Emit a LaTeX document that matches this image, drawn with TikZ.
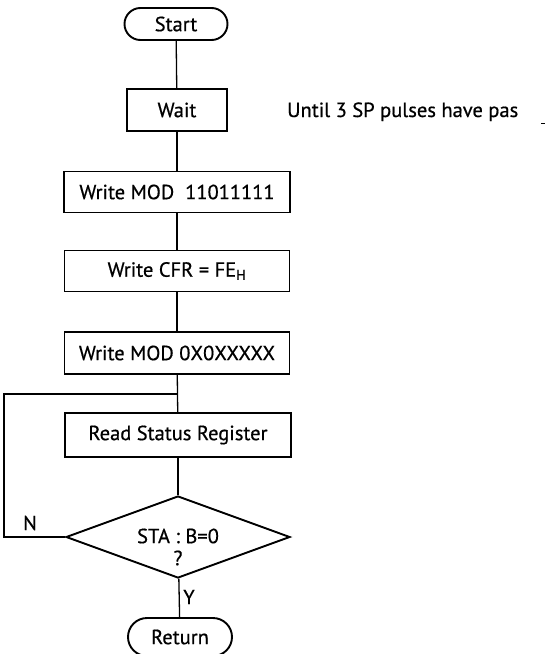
\documentclass[tikz,border=0pt]{standalone}
\usepackage{fontspec}
\setmainfont{PT Sans}[FakeBold=0.6]
\usetikzlibrary{shapes.geometric}
\begin{document}
\begin{tikzpicture}[x=1pt,y=-1pt,
  every node/.style={font=\fontsize{20.5}{21}\selectfont},
  box/.style={draw,line width=1.9pt,minimum height=43pt,inner sep=0pt},
  term/.style={draw,line width=1.9pt,rounded corners=16pt,minimum height=32pt,inner sep=0pt},
  dec/.style={draw,diamond,line width=1.9pt,minimum width=224pt,minimum height=82pt,inner sep=0pt},
  conn/.style={line width=1.3pt},
  lbl/.style={inner sep=0pt,align=center}]
\useasboundingbox (0,0) rectangle (546,654);
\node[term,minimum width=103pt] (start) at (176,24) {Start};
\node[box,minimum width=100pt,minimum height=42pt] (wait) at (177,110) {Wait};
\node[box,minimum width=226pt,minimum height=41pt] (w1) at (177,192) {Write MOD\ \ 11011111};
\node[box,minimum width=225pt,minimum height=41pt] (w2) at (177,271) {Write CFR = FE\textsubscript{H}};
\node[box,minimum width=225pt,minimum height=42pt] (w3) at (177,353) {Write MOD 0X0XXXXX};
\node[box,minimum width=226pt,minimum height=44pt] (rsr) at (178,435) {Read Status Register};
\node[dec] (d) at (178,537) {};
\node[lbl] (dt) at (178,547) {STA : B=0\\[1pt]?};
\node[term,minimum width=104pt,minimum height=38pt,rounded corners=19pt] (ret) at (180,637) {Return};
\node[lbl,anchor=base west] (note) at (287,117) {Until 3 SP pulses have pas};
\node[lbl] (n) at (30,523) {N};
\node[lbl] (y) at (189,597) {Y};
\coordinate (j) at (177,394);
\coordinate (lc) at (4,394);
\coordinate (t1) at (541,123);
\coordinate (t2) at (545,123);
\draw[conn] (start) -- (wait);
\draw[conn] (wait) -- (w1);
\draw[conn] (w1) -- (w2);
\draw[conn] (w2) -- (w3);
\draw[conn] (w3) -- (rsr);
\draw[conn] (rsr) -- (d);
\draw[conn] (d) -- (ret);
\draw[conn] (d.west) -| (lc) -- (j);
\draw[line width=0.8pt] (t1) -- (t2);
\end{tikzpicture}
\end{document}
